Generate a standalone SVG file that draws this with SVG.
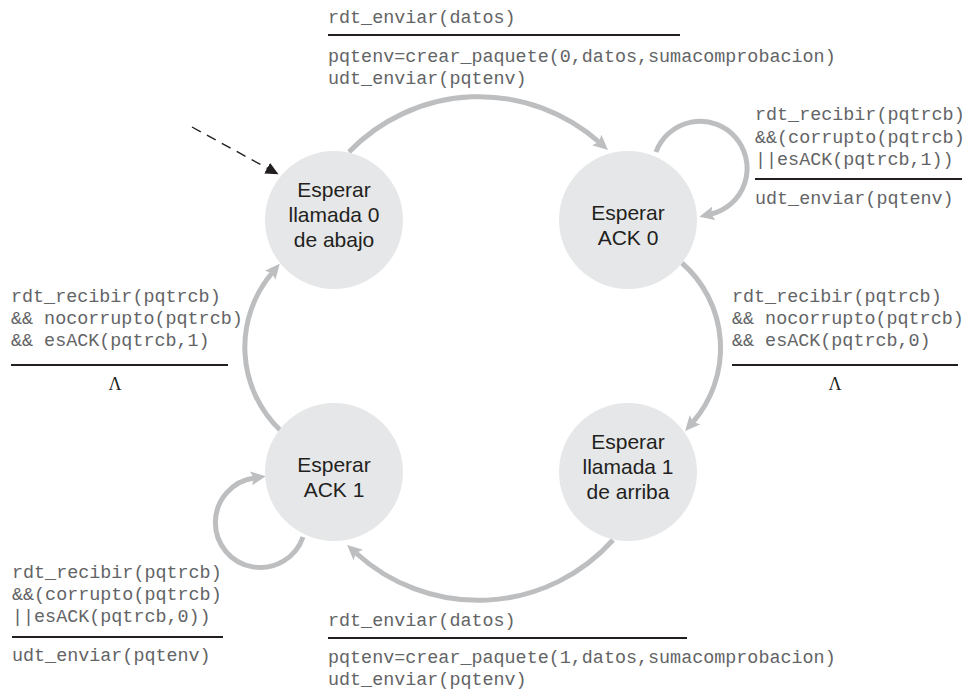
<svg xmlns="http://www.w3.org/2000/svg" width="970" height="695" viewBox="0 0 970 695">
<defs>
<style>
.node circle{fill:#e6e7e8;}
.node text{font-family:"Liberation Sans",Arial,sans-serif;font-size:21px;fill:#231f20;text-anchor:middle;}
.lbl{font-family:"Liberation Mono","Courier New",monospace;font-size:18.4px;fill:#636466;}
.lam{font-family:"Liberation Serif","Times New Roman",serif;font-size:18px;fill:#231f20;text-anchor:middle;}
.sep{stroke:#231f20;stroke-width:2;}
.edge{fill:none;stroke:#bcbec0;stroke-width:5;marker-end:url(#ah);}
</style>
<marker id="ah" markerUnits="userSpaceOnUse" markerWidth="16" markerHeight="14" refX="3" refY="7" orient="auto">
<path d="M0,0 L15,7 L0,14 L3,7 z" fill="#bcbec0"/>
</marker>
<marker id="ahd" markerUnits="userSpaceOnUse" markerWidth="14" markerHeight="12" refX="1" refY="6" orient="auto">
<path d="M0,0 L13,6 L0,12 z" fill="#231f20"/>
</marker>
</defs>
<rect width="970" height="695" fill="#ffffff"/>

<g id="connectors">
<path class="edge" d="M 349 152 A 181 181 0 0 1 599 142"/>
<path class="edge" d="M 656 152 A 47 47 0 1 1 711 214"/>
<path class="edge" d="M 682 263 A 113 113 0 0 1 693 422"/>
<path class="edge" d="M 613 540 A 181 181 0 0 1 356 553"/>
<path class="edge" d="M 303 537 A 45 45 0 1 1 254 478"/>
<path class="edge" d="M 280 430 A 115 115 0 0 1 272 273"/>
<path d="M 192 127 L 268 168.6" fill="none" stroke="#231f20" stroke-width="1.4" stroke-dasharray="10,7" marker-end="url(#ahd)"/>
</g>

<g id="node-llamada0" class="node">
<circle cx="334" cy="220" r="69"/>
<text x="334" y="197">Esperar</text>
<text x="334" y="222">llamada 0</text>
<text x="334" y="247">de abajo</text>
</g>
<g id="node-ack0" class="node">
<circle cx="628" cy="220" r="69"/>
<text x="628" y="220">Esperar</text>
<text x="628" y="245">ACK 0</text>
</g>
<g id="node-llamada1" class="node">
<circle cx="628" cy="472" r="69"/>
<text x="628" y="449">Esperar</text>
<text x="628" y="474">llamada 1</text>
<text x="628" y="499">de arriba</text>
</g>
<g id="node-ack1" class="node">
<circle cx="334" cy="472" r="69"/>
<text x="334" y="472">Esperar</text>
<text x="334" y="497">ACK 1</text>
</g>

<g id="labels">
<text class="lbl" x="328" y="23">rdt_enviar(datos)</text>
<line class="sep" x1="328" y1="35" x2="680" y2="35"/>
<text class="lbl" x="328" y="62">pqtenv=crear_paquete(0,datos,sumacomprobacion)</text>
<text class="lbl" x="328" y="84">udt_enviar(pqtenv)</text>

<text class="lbl" x="755" y="120">rdt_recibir(pqtrcb)</text>
<text class="lbl" x="755" y="143">&amp;&amp;(corrupto(pqtrcb)</text>
<text class="lbl" x="755" y="165">||esACK(pqtrcb,1))</text>
<line class="sep" x1="755" y1="179" x2="962" y2="179"/>
<text class="lbl" x="755" y="204">udt_enviar(pqtenv)</text>

<text class="lbl" x="732" y="302">rdt_recibir(pqtrcb)</text>
<text class="lbl" x="732" y="324">&amp;&amp; nocorrupto(pqtrcb)</text>
<text class="lbl" x="732" y="346">&amp;&amp; esACK(pqtrcb,0)</text>
<line class="sep" x1="732" y1="365" x2="958" y2="365"/>
<text class="lam" x="835" y="390">Λ</text>

<text class="lbl" x="11" y="302">rdt_recibir(pqtrcb)</text>
<text class="lbl" x="11" y="324">&amp;&amp; nocorrupto(pqtrcb)</text>
<text class="lbl" x="11" y="346">&amp;&amp; esACK(pqtrcb,1)</text>
<line class="sep" x1="11" y1="365" x2="228" y2="365"/>
<text class="lam" x="115" y="390">Λ</text>

<text class="lbl" x="12" y="578">rdt_recibir(pqtrcb)</text>
<text class="lbl" x="12" y="600">&amp;&amp;(corrupto(pqtrcb)</text>
<text class="lbl" x="12" y="622">||esACK(pqtrcb,0))</text>
<line class="sep" x1="12" y1="637" x2="223" y2="637"/>
<text class="lbl" x="12" y="661">udt_enviar(pqtenv)</text>

<text class="lbl" x="328" y="626">rdt_enviar(datos)</text>
<line class="sep" x1="328" y1="638" x2="687" y2="638"/>
<text class="lbl" x="328" y="663">pqtenv=crear_paquete(1,datos,sumacomprobacion)</text>
<text class="lbl" x="328" y="685">udt_enviar(pqtenv)</text>
</g>
</svg>
